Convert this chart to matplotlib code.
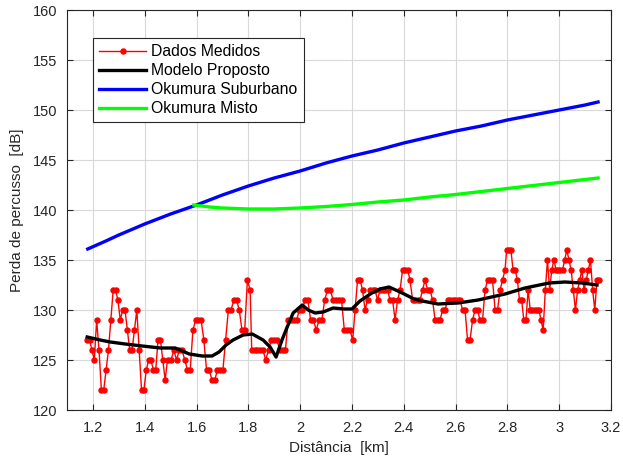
import numpy as np
import matplotlib
matplotlib.use("Agg")
import matplotlib.pyplot as plt

plt.rcParams['font.family'] = ['Liberation Sans', 'DejaVu Sans']

seg_a_range = (1.178, 1.488)
seg_a = [127, 127, 126, 125, 129, 126, 122, 122, 124, 126, 129, 132, 132, 131, 129,
         130, 130, 128, 126, 126, 128, 130, 126, 122, 122, 124, 125, 125, 124, 124,
         127, 127, 125, 123, 125]
seg_b_range = (1.502, 1.807)
seg_b = [125, 126, 125, 126, 126, 125, 124, 124, 128, 129, 129, 129, 127, 124, 124,
         123, 123, 124, 124, 124, 127, 130, 130, 131, 131, 130, 128, 128, 133, 132]
seg_c_range = (1.813, 2.203)
seg_c = [126, 126, 126, 126, 126, 125, 126, 127, 127, 127, 126, 126, 126, 129, 129,
         129, 129, 130, 130, 131, 131, 129, 129, 128, 129, 129, 131, 132, 132, 131,
         131, 131, 131, 128, 128, 128, 127]
seg_d_range = (2.212, 2.791)
seg_d = [130, 133, 133, 132, 130, 131, 132, 132, 132, 131, 132, 132, 132, 132, 131,
         131, 129, 131, 132, 134, 134, 134, 133, 131, 131, 131, 131, 132, 133, 132,
         132, 131, 129, 129, 129, 130, 130, 131, 131, 131, 131, 131, 131, 130, 130,
         127, 127, 129, 130, 130, 129, 129, 132, 133, 133, 133, 130, 130, 132, 133, 134]
seg_e_range = (2.797, 3.154)
seg_e = [136, 136, 136, 134, 134, 133, 131, 131, 129, 129, 132, 130, 130, 130, 130,
         130, 129, 128, 132, 135, 132, 134, 135, 134, 134, 134, 134, 135, 136, 135,
         134, 132, 130, 132, 133, 134, 132, 133, 134, 135, 132, 130, 133, 133]

# ---- Proposed model (black)
model_d = [1.178, 1.228, 1.267, 1.325, 1.390, 1.460, 1.518, 1.572, 1.622, 1.660,
           1.687, 1.714, 1.741, 1.780, 1.815, 1.857, 1.884, 1.907, 1.930, 1.950,
           1.973, 2.008, 2.031, 2.058, 2.089, 2.127, 2.170, 2.200, 2.231, 2.277,
           2.308, 2.343, 2.386, 2.440, 2.471, 2.532, 2.610, 2.687, 2.791, 2.868,
           2.961, 3.022, 3.088, 3.146]
model_v = [127.3, 127.0, 126.8, 126.6, 126.4, 126.2, 126.2, 125.6, 125.4, 125.4,
           125.8, 126.5, 127.0, 127.5, 127.6, 127.0, 126.3, 125.3, 127.0, 128.3,
           129.7, 130.5, 130.0, 129.7, 129.8, 130.2, 130.1, 130.1, 130.9, 131.7,
           132.1, 132.3, 131.8, 131.1, 130.9, 130.6, 130.7, 131.0, 131.6, 132.2,
           132.7, 132.8, 132.7, 132.5]

# ---- Okumura suburban (blue)
sub_d = [1.18, 1.25, 1.3, 1.4, 1.5, 1.6, 1.7, 1.8, 1.9, 2.0, 2.1, 2.2, 2.3, 2.4,
         2.5, 2.6, 2.7, 2.8, 2.9, 3.0, 3.1, 3.15]
sub_v = [136.1, 136.9, 137.5, 138.6, 139.6, 140.5, 141.5, 142.4, 143.2, 143.9,
         144.7, 145.4, 146.0, 146.7, 147.3, 147.9, 148.4, 149.0, 149.5, 150.0,
         150.5, 150.8]

# ---- Okumura mixed (green)
mix_d = [1.59, 1.65, 1.7, 1.8, 1.9, 2.0, 2.1, 2.2, 2.3, 2.4, 2.5, 2.6, 2.7, 2.8,
         2.9, 3.0, 3.1, 3.15]
mix_v = [140.5, 140.3, 140.2, 140.1, 140.1, 140.2, 140.35, 140.55, 140.8, 141.0,
         141.3, 141.55, 141.85, 142.15, 142.45, 142.75, 143.05, 143.2]

xticks = [1.2, 1.4, 1.6, 1.8, 2.0, 2.2, 2.4, 2.6, 2.8, 3.0, 3.2]
xtick_labels = ['1.2', '1.4', '1.6', '1.8', '2', '2.2', '2.4', '2.6', '2.8', '3', '3.2']
yticks = [120, 125, 130, 135, 140, 145, 150, 155, 160]

segments = [(seg_a_range, seg_a), (seg_b_range, seg_b), (seg_c_range, seg_c),
            (seg_d_range, seg_d), (seg_e_range, seg_e)]
meas_d = np.concatenate([np.linspace(r[0], r[1], len(v)) for r, v in segments])
meas_v = np.concatenate([np.array(v, float) for r, v in segments])

fig = plt.figure(figsize=(6.23, 4.59), dpi=100)
ax = fig.add_axes([67 / 623, 1 - 410 / 459, 544 / 623, 400 / 459])

ax.plot(meas_d, meas_v, color='#ff0000', lw=1.0, marker='o', ms=3.6,
        mec='#ff0000', mfc='#ff0000', label='Dados Medidos', zorder=3)
ax.plot(model_d, model_v, color='black', lw=2.4, label='Modelo Proposto', zorder=4)
ax.plot(sub_d, sub_v, color='#0000ff', lw=2.4, label='Okumura Suburbano', zorder=4)
ax.plot(mix_d, mix_v, color='#00ff00', lw=2.4, label='Okumura Misto', zorder=4)

ax.set_xlim(1.1, 3.2)
ax.set_ylim(120, 160)
ax.set_xticks(xticks)
ax.set_xticklabels(xtick_labels)
ax.set_yticks(yticks)
ax.grid(True, color='#d9d9d9', lw=0.8)
ax.set_axisbelow(True)
ax.tick_params(direction='in', top=True, right=True, labelsize=10.5,
               colors='#262626', length=4)
ax.tick_params(axis='x', pad=8)
ax.tick_params(axis='y', pad=7)
for s in ax.spines.values():
    s.set_color('#262626')
    s.set_linewidth(0.8)

ax.set_xlabel('Distância  [km]', fontsize=11, color='#262626', labelpad=4)
ax.set_ylabel('Perda de percusso  [dB]', fontsize=11, color='#262626', labelpad=6)

leg = ax.legend(loc='upper left', bbox_to_anchor=(0.048, 0.93), fontsize=11.3,
                frameon=True, fancybox=False, framealpha=1, edgecolor='#262626',
                handlelength=3.0, labelspacing=0.25, borderpad=0.4,
                handletextpad=0.3, borderaxespad=0)
leg.get_frame().set_linewidth(0.8)

fig.savefig('out.png', dpi=100)
